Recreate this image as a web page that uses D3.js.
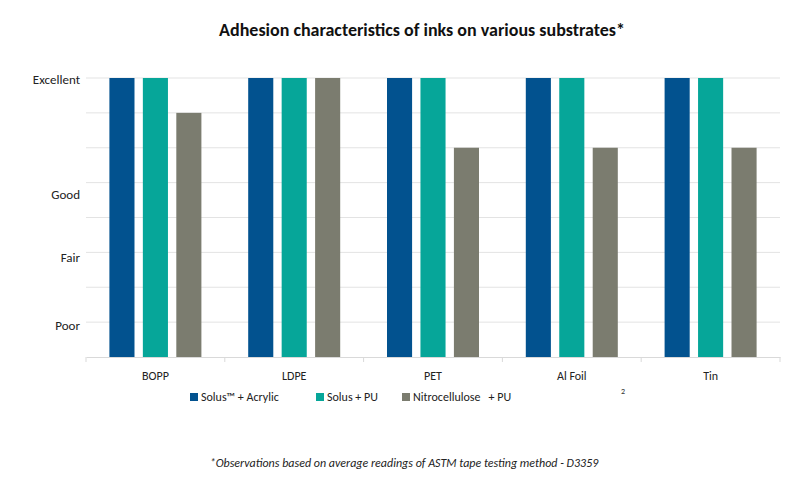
<!DOCTYPE html>
<html><head><meta charset="utf-8">
<script src="https://cdn.jsdelivr.net/npm/d3@7"></script>
<style>body{margin:0;background:#fff}svg{font-family:Calibri,Carlito,"Open Sans",sans-serif}</style>
</head><body><div id="chart"></div>
<script>
var categories = ["BOPP", "LDPE", "PET", "Al Foil", "Tin"];
var seriesNames = ["Solus\u2122 + Acrylic", "Solus + PU", "Nitrocellulose   + PU"];
var acrylic = [8, 8, 8, 8, 8];
var solusPU = [8, 8, 8, 8, 8];
var nitro = [7, 8, 6, 6, 6];
var yLabels = ["Poor", "Fair", "Good", "Excellent"];
var yLabelPos = [0.9, 2.85, 4.65, 7.95];
var colors = ["#02528f", "#06a699", "#7b7c6f"];

var W = 800, H = 477;
var svg = d3.select("#chart").append("svg").attr("width", W).attr("height", H);
var plotLeft = 86, plotRight = 780, plotTop = 78, plotBottom = 357;

var x = d3.scaleBand().domain(categories).range([plotLeft, plotRight]);
var xs = d3.scaleBand().domain([0, 1, 2]).range([-46, 46]).paddingInner(0.25);
var y = d3.scaleLinear().domain([0, 8]).range([plotBottom, plotTop]);

svg.append("g").selectAll("line").data(d3.range(1, 9)).enter().append("line")
    .attr("x1", plotLeft).attr("x2", plotRight)
    .attr("y1", d => y(d)).attr("y2", d => y(d))
    .attr("stroke", "#e3e3e3").attr("stroke-width", 1);

var series = [acrylic, solusPU, nitro];
series.forEach(function(vals, s) {
    svg.append("g").selectAll("rect").data(categories).enter().append("rect")
        .attr("x", d => x(d) + x.bandwidth() / 2 + xs(s))
        .attr("width", xs.bandwidth())
        .attr("y", (d, i) => y(vals[i]))
        .attr("height", (d, i) => y(0) - y(vals[i]))
        .attr("fill", colors[s]);
});

var xAxis = svg.append("g").attr("transform", `translate(0,${plotBottom})`)
    .call(d3.axisBottom(x).tickSize(0).tickPadding(14));
xAxis.attr("font-family", null).attr("font-size", null);
xAxis.select(".domain").attr("stroke", "#d9d9d9");
xAxis.selectAll("text").attr("font-size", 12).attr("fill", "#222");
xAxis.append("g").selectAll("line").data(d3.range(6)).enter().append("line")
    .attr("x1", d => plotLeft + d * x.step()).attr("x2", d => plotLeft + d * x.step())
    .attr("y1", 0).attr("y2", 5).attr("stroke", "#d9d9d9");

svg.append("g").selectAll("text").data(yLabels).enter().append("text")
    .attr("x", 80).attr("y", (d, i) => y(yLabelPos[i]))
    .attr("dy", "0.35em").attr("text-anchor", "end")
    .attr("font-size", 13).attr("fill", "#222").text(d => d);

svg.append("text").attr("x", 422).attr("y", 36).attr("text-anchor", "middle")
    .attr("font-size", 18).attr("font-weight", "bold").attr("fill", "#111")
    .text("Adhesion characteristics of inks on various substrates*");

var legX = [190, 316, 402];
var leg = svg.append("g").selectAll("g").data(seriesNames).enter().append("g")
    .attr("transform", (d, i) => `translate(${legX[i]},397)`);
leg.append("rect").attr("x", 0).attr("y", -4).attr("width", 8).attr("height", 8)
    .attr("fill", (d, i) => colors[i]);
leg.append("text").attr("x", 11).attr("dy", "0.35em").attr("font-size", 12)
    .attr("fill", "#222").attr("xml:space", "preserve").style("white-space", "pre").text(d => d);
svg.append("text").attr("x", 621).attr("y", 394).attr("font-size", 8).attr("fill", "#333").text("2");

svg.append("text").attr("x", 404).attr("y", 467).attr("text-anchor", "middle")
    .attr("font-size", 12).attr("font-style", "italic").attr("fill", "#222")
    .text("*Observations based on average readings of ASTM tape testing method - D3359");
</script></body></html>
